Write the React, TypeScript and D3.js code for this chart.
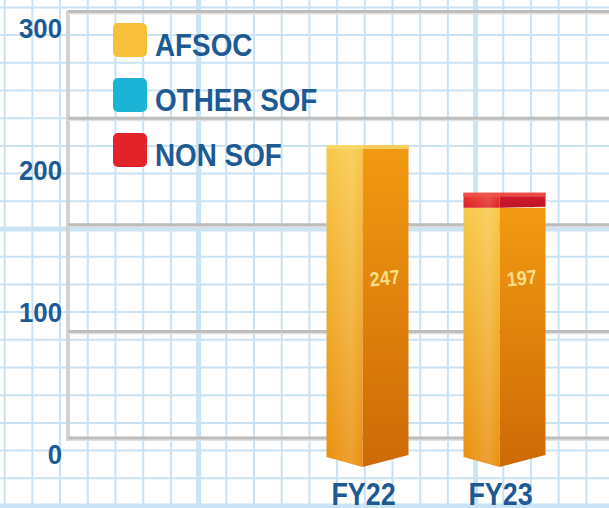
import React from "react";
import * as d3 from "d3";

const categories = ["FY22", "FY23"];
const afsoc = [247, 197];
const otherSof = [0, 0];
const nonSof = [0, 12];
const seriesNames = ["AFSOC", "OTHER SOF", "NON SOF"];
const yTickValues = [0, 100, 200, 300];
const wallLines = [0, 1, 2, 3, 4];

const W = 609;
const H = 508;
const FONT = "'Liberation Sans', Arial, Helvetica, sans-serif";
const TEXT_BLUE = "#1d5a94";

const faceColors: Record<string, { l0: string; l1: string; r0: string; r1: string; top: string; swatch: string }> = {
  AFSOC: { l0: "#f8c848", l1: "#ea8f0e", r0: "#f29a12", r1: "#cd6a06", top: "#fad76e", swatch: "#f8bf3a" },
  "OTHER SOF": { l0: "#45cbe6", l1: "#1aa6c9", r0: "#1b9fc4", r1: "#12809f", top: "#75d8ee", swatch: "#1bb3d6" },
  "NON SOF": { l0: "#ec3a30", l1: "#dc1f22", r0: "#d41c2c", r1: "#bd1428", top: "#f0544a", swatch: "#e3232a" },
};

export default function App() {
  const rows = categories.map((c, i) => ({
    cat: c,
    AFSOC: afsoc[i],
    "OTHER SOF": otherSof[i],
    "NON SOF": nonSof[i],
  }));
  const stacked = d3.stack<any>().keys(seriesNames)(rows);

  const x = d3.scalePoint<string>().domain(categories).range([367.5, 504.5]);
  const barW = 82;
  const y = d3.scaleLinear().domain([0, 300]).range([455, 78.5]);
  const yLabel = d3.scaleLinear().domain([0, 300]).range([454, 27.5]);
  const yWall = d3.scaleLinear().domain([0, 4]).range([438, 11.5]);

  // background graph-paper grid (decoration)
  const cell = 27.7;
  const vLines = d3.range(-8, 16).map((k) => ({ p: 198.6 + k * cell, thick: k % 10 === 0 })).filter((d) => d.p > -5 && d.p < W + 5);
  const hLines = d3.range(-9, 12).map((k) => ({ p: 229 + k * cell, thick: k % 10 === 0 })).filter((d) => d.p > -5 && d.p < H + 5);

  const topIndex = categories.map((_, i) => {
    let t = -1;
    stacked.forEach((s, si) => {
      if (s[i][1] - s[i][0] > 0) t = si;
    });
    return t;
  });

  return (
    <svg width={W} height={H} style={{ position: "absolute", left: 0, top: 0, display: "block", background: "#fff" }}>
      <defs>
        {seriesNames.map((n, si) => (
          <React.Fragment key={n}>
            <linearGradient id={`gl${si}`} x1="0" y1="0" x2="0" y2="1">
              <stop offset="0%" stopColor={faceColors[n].l0} />
              <stop offset="100%" stopColor={faceColors[n].l1} />
            </linearGradient>
            <linearGradient id={`gr${si}`} x1="0" y1="0" x2="0" y2="1">
              <stop offset="0%" stopColor={faceColors[n].r0} />
              <stop offset="100%" stopColor={faceColors[n].r1} />
            </linearGradient>
          </React.Fragment>
        ))}
        <linearGradient id="hl" x1="0" y1="0" x2="1" y2="0">
          <stop offset="0%" stopColor="#fff" stopOpacity={0.0} />
          <stop offset="70%" stopColor="#fff" stopOpacity={0.15} />
          <stop offset="100%" stopColor="#fff" stopOpacity={0.0} />
        </linearGradient>
      </defs>
      <rect x={0} y={0} width={W} height={H} fill="#ffffff" />
      {vLines.map((d, i) => (
        <line key={`v${i}`} x1={d.p} x2={d.p} y1={0} y2={H} stroke={d.thick ? "#cbe4f5" : "#c9e2f4"} strokeWidth={d.thick ? 5 : 2} />
      ))}
      {hLines.map((d, i) => (
        <line key={`h${i}`} x1={0} x2={W} y1={d.p} y2={d.p} stroke={d.thick ? "#cbe4f5" : "#c9e2f4"} strokeWidth={d.thick ? 5 : 2} />
      ))}

      {/* back wall */}
      <line x1={68} x2={68} y1={yWall(4) - 1} y2={yWall(0) + 3} stroke="#d2d2d2" strokeWidth={4} />
      {wallLines.map((w) => (
        <g key={`w${w}`}>
          <line x1={68} x2={W} y1={yWall(w) + 2} y2={yWall(w) + 2} stroke="#e2e2e2" strokeWidth={2} />
          <line x1={68} x2={W} y1={yWall(w)} y2={yWall(w)} stroke="#bdbdbd" strokeWidth={3} />
        </g>
      ))}

      {/* y tick labels */}
      {yTickValues.map((t) => (
        <text
          key={`t${t}`}
          transform={`translate(62,${yLabel(t) + 10}) scale(0.92,1)`}
          textAnchor="end"
          fontFamily={FONT}
          fontWeight={700}
          fontSize={28}
          fill={TEXT_BLUE}
        >
          {t}
        </text>
      ))}

      {/* bars */}
      {categories.map((c, i) => {
        const cx = x(c)!;
        const x0 = cx - barW / 2;
        const x1 = cx + barW / 2;
        const xm = x0 + barW * 0.44;
        return (
          <g key={`b${c}`}>
            {stacked.map((s, si) => {
              const [v0, v1] = s[i];
              if (v1 - v0 <= 0) return null;
              const yt = y(v1);
              const yb = y(v0);
              const base = v0 === 0;
              const bl = base ? yb + 2 : yb;
              const bm = base ? yb + 12 : yb;
              const br = base ? yb : yb - 1;
              const left = `${x0},${yt} ${xm},${yt} ${xm},${bm} ${x0},${bl}`;
              const right = `${xm},${yt} ${x1},${yt} ${x1},${br} ${xm},${bm}`;
              return (
                <g key={`s${si}`}>
                  <polygon points={left} fill={`url(#gl${si})`} />
                  <polygon points={left} fill="url(#hl)" />
                  <polygon points={right} fill={`url(#gr${si})`} />
                  {si === topIndex[i] && (
                    <polygon points={`${x0},${yt} ${x1},${yt} ${x1},${yt + 4} ${x0},${yt + 4}`} fill={faceColors[seriesNames[si]].top} opacity={0.85} />
                  )}
                </g>
              );
            })}
            <text
              transform={`translate(${(xm + x1) / 2},${y(141) + 7}) rotate(-6) scale(0.9,1)`}
              textAnchor="middle"
              fontFamily={FONT}
              fontWeight={700}
              fontSize={20}
              fill="#f9de88"
            >
              {afsoc[i]}
            </text>
            <text
              transform={`translate(${cx - 4},505) scale(0.84,1)`}
              textAnchor="middle"
              fontFamily={FONT}
              fontWeight={700}
              fontSize={32}
              fill={TEXT_BLUE}
            >
              {c}
            </text>
          </g>
        );
      })}

      {/* legend */}
      {seriesNames.map((n, i) => {
        const cy = 40 + i * 55;
        return (
          <g key={`l${n}`}>
            <rect x={113} y={cy - 17} width={34} height={34} rx={5} fill={faceColors[n].swatch} />
            <text transform={`translate(155,${cy + 15.5}) scale(0.87,1)`} fontFamily={FONT} fontWeight={700} fontSize={32} fill={TEXT_BLUE}>
              {n}
            </text>
          </g>
        );
      })}
    </svg>
  );
}
